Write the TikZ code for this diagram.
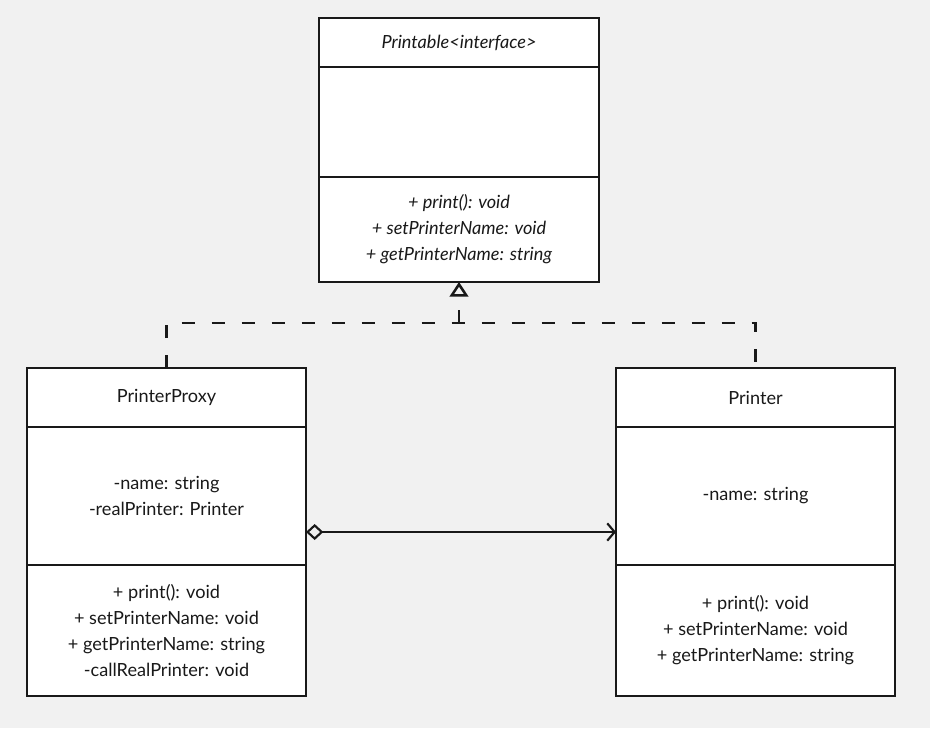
\documentclass[tikz,border=0pt]{standalone}
\usepackage{fontspec}
\setmainfont{Lato}
\usetikzlibrary{arrows.meta}
\definecolor{canvas}{RGB}{241,241,241}
\definecolor{ink}{RGB}{25,25,25}
\tikzset{
  classpart/.style={rectangle, draw=ink, line width=1.9pt, fill=white, text=ink, align=center, font=\fontsize{13.6}{19.5}\selectfont, inner sep=0pt, outer sep=0pt},
  realize/.style={draw=ink, line width=1.9pt, dash pattern=on 9.75pt off 12.75pt},
  aggregate/.style={draw=ink, line width=1.6pt}
}
\begin{document}
\begin{tikzpicture}[x=0.75pt, y=-0.75pt]
        \fill[canvas] (0,0) rectangle (930,728);
        \useasboundingbox (0,0) rectangle (930,728);

        \node[classpart, anchor=north, minimum width=210pt, minimum height=36.75pt] (ifacename) at (459,18) {\itshape Printable<interface>};
        \node[classpart, anchor=north, minimum width=210pt, minimum height=82.5pt] (ifaceattrs) at (ifacename.south) {};
        \node[classpart, anchor=north, minimum width=210pt, minimum height=78.75pt, font=\fontsize{13.6}{19.5}\selectfont\itshape] (ifacemethods) at (ifaceattrs.south) {+ print(): void\\+ setPrinterName: void\\+ getPrinterName: string};

        \node[classpart, anchor=north, minimum width=209.25pt, minimum height=44.25pt] (proxyname) at (166.5,368) {PrinterProxy};
        \node[classpart, anchor=north, minimum width=209.25pt, minimum height=103.5pt] (proxyattrs) at (proxyname.south) {-name: string\\-realPrinter: Printer};
        \node[classpart, anchor=north, minimum width=209.25pt, minimum height=98.25pt] (proxymethods) at (proxyattrs.south) {+ print(): void\\+ setPrinterName: void\\+ getPrinterName: string\\-callRealPrinter: void};

        \node[classpart, anchor=north, minimum width=209.25pt, minimum height=44.25pt] (printername) at (755.5,368) {Printer};
        \node[classpart, anchor=north, minimum width=209.25pt, minimum height=103.5pt] (printerattrs) at (printername.south) {-name: string};
        \node[classpart, anchor=north, minimum width=209.25pt, minimum height=98.25pt] (printermethods) at (printerattrs.south) {+ print(): void\\+ setPrinterName: void\\+ getPrinterName: string};

        \coordinate (junction) at (459,323);
        \draw[realize] (proxyname.north) |- (junction) -| (printername.north);
        \draw[realize, -{Triangle[open, length=11pt, width=14pt]}] (junction) -- (ifacemethods.south);
        \draw[aggregate, {Diamond[open, length=13pt, width=12pt]}-{Straight Barb[length=5.5pt, width=13pt]}] ([yshift=-27pt]proxyattrs.east) -- ([yshift=-27pt]printerattrs.west);

    \end{tikzpicture}
\end{document}
